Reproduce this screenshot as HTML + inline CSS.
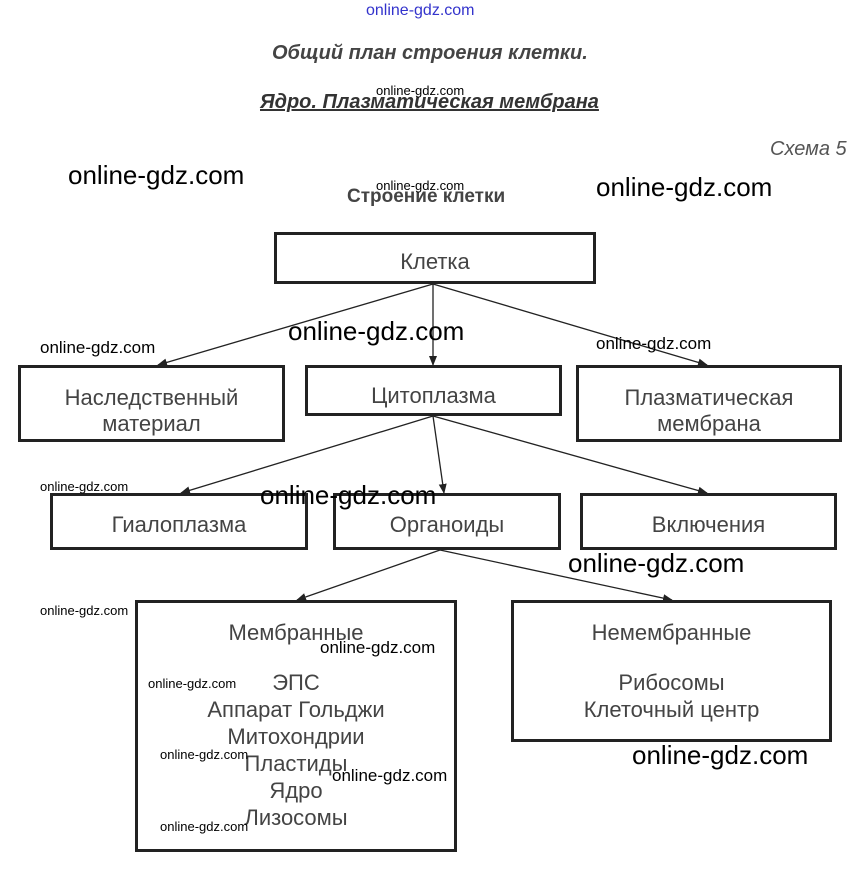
<!DOCTYPE html>
<html><head><meta charset="utf-8"><style>
body{margin:0;width:853px;height:873px;background:#fff;position:relative;overflow:hidden;font-family:"Liberation Sans",sans-serif}
.t{position:absolute;white-space:nowrap}
.b{position:absolute;border:3px solid #222;box-sizing:border-box;color:#444;font-size:22px;text-align:center;line-height:26px;overflow:hidden}
.w{position:absolute;white-space:nowrap;color:#000;font-family:"Liberation Sans Narrow","Liberation Sans",sans-serif}
.wl{font-size:26px}.ws{font-size:13px}
</style></head><body>
<svg width="853" height="873" style="position:absolute;left:0;top:0">
<defs><marker id="a" markerWidth="10" markerHeight="10" refX="9" refY="5" orient="auto" markerUnits="userSpaceOnUse"><path d="M0,1 L10,5 L0,9 Z" fill="#222"/></marker></defs>
<g stroke="#222" stroke-width="1.3" marker-end="url(#a)">
<line x1="433" y1="284" x2="158" y2="365"/>
<line x1="433" y1="284" x2="433" y2="365"/>
<line x1="433" y1="284" x2="707" y2="365"/>
<line x1="433" y1="416" x2="181" y2="493"/>
<line x1="433" y1="416" x2="444" y2="493"/>
<line x1="433" y1="416" x2="707" y2="493"/>
<line x1="440" y1="550" x2="297" y2="600"/>
<line x1="440" y1="550" x2="672" y2="600"/>
</g></svg>
<div class="t" style="left:366px;top:2px;font-size:16px;color:#33c">online-gdz.com</div>
<div class="t" style="left:272px;top:42px;font-size:20px;font-weight:bold;font-style:italic;color:#444">Общий план строения клетки.</div>
<div class="t" style="left:260px;top:91px;font-size:20px;font-weight:bold;font-style:italic;color:#333;text-decoration:underline">Ядро. Плазматическая мембрана</div>
<div class="t" style="left:770px;top:138px;font-size:20px;font-style:italic;color:#555">Схема 5</div>
<div class="t" style="left:347px;top:186px;font-size:19px;font-weight:bold;color:#444">Строение клетки</div>

<div class="b" style="left:274px;top:232px;width:322px;height:52px;padding-top:14px">Клетка</div>
<div class="b" style="left:18px;top:365px;width:267px;height:77px;padding-top:17px">Наследственный<br>материал</div>
<div class="b" style="left:305px;top:365px;width:257px;height:51px;padding-top:15px">Цитоплазма</div>
<div class="b" style="left:576px;top:365px;width:266px;height:77px;padding-top:17px">Плазматическая<br>мембрана</div>
<div class="b" style="left:50px;top:493px;width:258px;height:57px;padding-top:16px">Гиалоплазма</div>
<div class="b" style="left:333px;top:493px;width:228px;height:57px;padding-top:16px">Органоиды</div>
<div class="b" style="left:580px;top:493px;width:257px;height:57px;padding-top:16px">Включения</div>
<div class="b" style="left:135px;top:600px;width:322px;height:252px;padding-top:16px;line-height:27px">Мембранные<div style="height:23px"></div>ЭПС<br>Аппарат Гольджи<br>Митохондрии<br>Пластиды<br>Ядро<br>Лизосомы</div>
<div class="b" style="left:511px;top:600px;width:321px;height:142px;padding-top:16px;line-height:27px">Немембранные<div style="height:23px"></div>Рибосомы<br>Клеточный центр</div>

<div class="w wl" style="left:68px;top:160px">online-gdz.com</div>
<div class="w wl" style="left:596px;top:172px">online-gdz.com</div>
<div class="w wl" style="left:288px;top:316px">online-gdz.com</div>
<div class="w wl" style="left:260px;top:480px">online-gdz.com</div>
<div class="w wl" style="left:568px;top:548px">online-gdz.com</div>
<div class="w wl" style="left:632px;top:740px">online-gdz.com</div>
<div class="w" style="left:40px;top:338px;font-size:17px">online-gdz.com</div>
<div class="w" style="left:596px;top:334px;font-size:17px">online-gdz.com</div>
<div class="w ws" style="left:376px;top:83px">online-gdz.com</div>
<div class="w ws" style="left:376px;top:178px">online-gdz.com</div>
<div class="w ws" style="left:40px;top:479px">online-gdz.com</div>
<div class="w ws" style="left:40px;top:603px">online-gdz.com</div>
<div class="w ws" style="left:148px;top:676px">online-gdz.com</div>
<div class="w ws" style="left:160px;top:747px">online-gdz.com</div>
<div class="w ws" style="left:160px;top:819px">online-gdz.com</div>
<div class="w" style="left:320px;top:638px;font-size:17px">online-gdz.com</div>
<div class="w" style="left:332px;top:766px;font-size:17px">online-gdz.com</div>
</body></html>
